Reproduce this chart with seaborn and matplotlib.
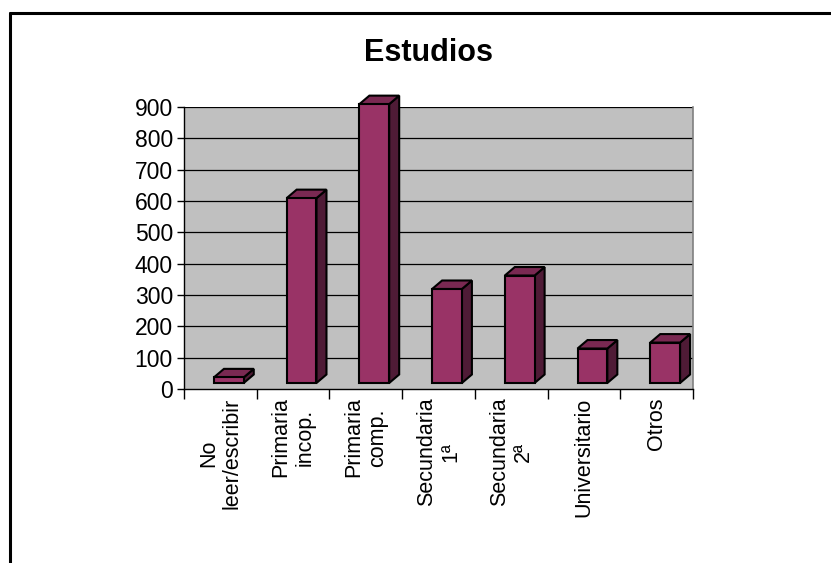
import matplotlib
matplotlib.use("Agg")
import matplotlib.pyplot as plt
from matplotlib.patches import Polygon
from matplotlib.lines import Line2D
import pandas as pd
import seaborn as sns

categories = ["No\nleer/escribir", "Primaria\nincop.", "Primaria\ncomp.", "Secundaria\n1ª",
              "Secundaria\n2ª", "Universitario", "Otros"]
values = [18, 590, 890, 300, 343, 110, 129]
y_ticks = [0, 100, 200, 300, 400, 500, 600, 700, 800, 900]

FRONT = "#993366"
TOP = "#7A2952"
SIDE = "#4F1B36"
WALL = "#C0C0C0"

sns.set_theme(style="white")
plt.rcParams["font.family"] = ["Liberation Sans", "DejaVu Sans"]
plt.rcParams["text.color"] = "black"
plt.rcParams["xtick.color"] = "black"
plt.rcParams["ytick.color"] = "black"
plt.rcParams["axes.labelcolor"] = "black"

df = pd.DataFrame({"estudio": categories, "n": values})

fig = plt.figure(figsize=(8.31, 5.63), dpi=100)
ax = fig.add_axes([184 / 831, 174 / 563, 509 / 831, 282 / 563])
ax.set_facecolor(WALL)

sns.barplot(data=df, x="estudio", y="n", ax=ax, color=FRONT, width=0.41,
            saturation=1, edgecolor="black", linewidth=1.5, zorder=3)

ax.set_xlim(-0.5, len(categories) - 0.5)
ax.set_ylim(0, 900)
ax.set_yticks(y_ticks)
for v in y_ticks[1:]:
    ax.axhline(v, color="black", lw=0.9, zorder=1)

# fake 3D: shift the front faces and add top / side faces (pixel offsets)
shift_x, shift_y = 8.5, 6.0
depth_x, depth_y = 10.0, 8.5
fig.canvas.draw()
to_disp = ax.transData.transform
ident = matplotlib.transforms.IdentityTransform()
for patch in list(ax.patches):
    x0, y0 = patch.get_x(), patch.get_y()
    x1, y1 = x0 + patch.get_width(), y0 + patch.get_height()
    (px0, py0), (px1, py1) = to_disp((x0, y0)), to_disp((x1, y1))
    px0, px1 = px0 + shift_x, px1 + shift_x
    py0, py1 = py0 + shift_y, py1 + shift_y
    front = [(px0, py0), (px1, py0), (px1, py1), (px0, py1)]
    top = [(px0, py1), (px1, py1), (px1 + depth_x, py1 + depth_y), (px0 + depth_x, py1 + depth_y)]
    side = [(px1, py0), (px1 + depth_x, py0 + depth_y), (px1 + depth_x, py1 + depth_y), (px1, py1)]
    patch.set_visible(False)
    for pts, col in [(side, SIDE), (top, TOP), (front, FRONT)]:
        ax.add_patch(Polygon(pts, closed=True, facecolor=col, edgecolor="black", lw=1.5,
                             transform=ident, clip_on=False, zorder=4))

ax.spines["top"].set_visible(False)
ax.spines["right"].set_color("#808080")
ax.spines["right"].set_linewidth(1.2)
for s in ["left", "bottom"]:
    ax.spines[s].set_color("black")
    ax.spines[s].set_linewidth(1.0)

ax.set_xticks([i - 0.5 for i in range(len(categories) + 1)], minor=True)
ax.tick_params(axis="x", which="minor", bottom=True, length=7, width=1, color="black", direction="out")
ax.tick_params(axis="x", which="major", bottom=False, length=0, pad=6)
ax.tick_params(axis="y", left=True, length=5, width=1, color="black", direction="out", labelsize=16.5, pad=3)
ax.set_xticks(range(len(categories)))
ax.set_xticklabels(categories, rotation=90, fontsize=15.5, va="top", ha="center", multialignment="center")
ax.set_xlabel("")
ax.set_ylabel("")

fig.text(428 / 831, 1 - 53 / 563, "Estudios", ha="center", va="center", fontsize=22,
         fontweight="bold", color="black")

# chart area border (left and top only visible)
fig.add_artist(Line2D([9.5 / 831, 9.5 / 831], [0, 1 - 13 / 563], transform=fig.transFigure, color="black", lw=2.2))
fig.add_artist(Line2D([9.5 / 831, 1], [1 - 13 / 563, 1 - 13 / 563], transform=fig.transFigure, color="black", lw=2.2))

fig.savefig("out.png", dpi=100)
